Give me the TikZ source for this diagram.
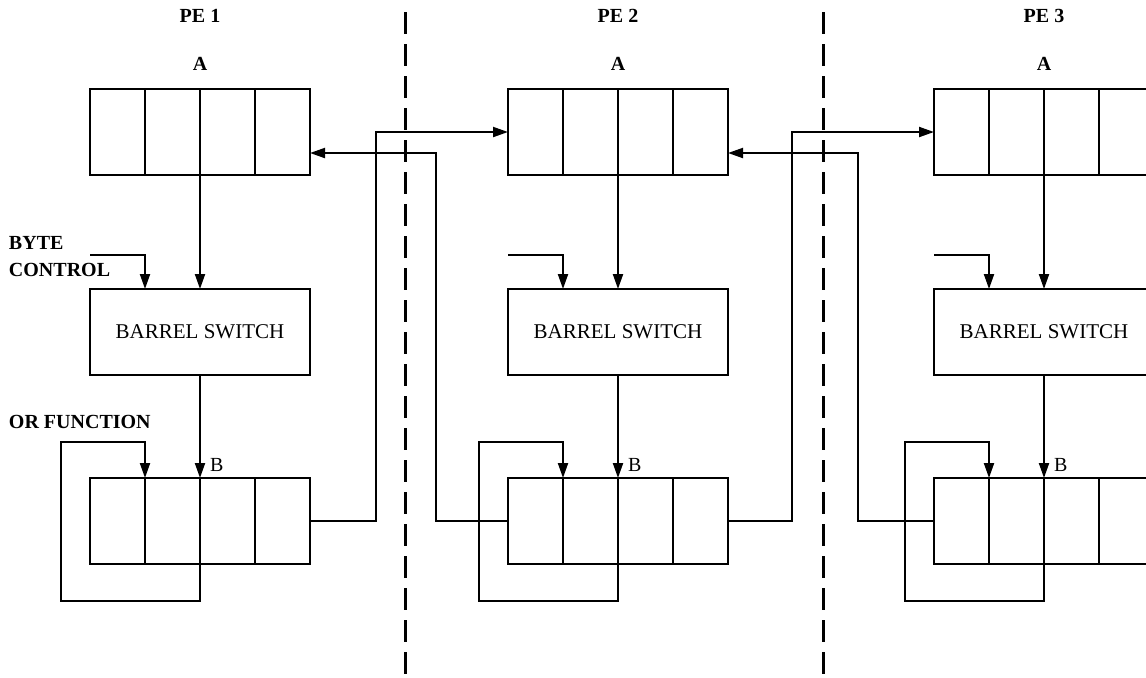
\documentclass[tikz,border=0pt]{standalone}
\usepackage{fontspec}
\setmainfont{Liberation Serif}
\usetikzlibrary{positioning,arrows.meta,calc}

\begin{document}
\begin{tikzpicture}[
    x=0.5pt, y=-0.5pt,
    line width=1pt,
    >={Triangle[length=7.5pt,width=5pt]},
    register/.style={
        draw=black,
        minimum width=110pt,
        minimum height=43pt,
        inner sep=0pt,
        outer sep=0pt,
        path picture={
            \foreach \f in {0.25,0.5,0.75}
                \draw ($(path picture bounding box.north west)!\f!(path picture bounding box.north east)$)
                    -- ($(path picture bounding box.south west)!\f!(path picture bounding box.south east)$);
        }
    },
    switchbox/.style={
        draw=black,
        minimum width=110pt,
        minimum height=43pt,
        inner sep=0pt,
        outer sep=0pt,
        font=\fontsize{10.5}{12}\selectfont
    },
    lbl/.style={inner sep=0pt, font=\bfseries\fontsize{10}{13.5}\selectfont},
    blbl/.style={inner sep=0pt, font=\fontsize{10}{12}\selectfont},
    link/.style={->, draw=black},
    divider/.style={draw=black, line width=1.5pt, dash pattern=on 11pt off 5pt}
]

    \clip (0,0) rectangle (1146,677);

    \foreach \i/\L in {1/90, 2/508, 3/934} {
        \node[register] (A\i) at (\L+110,132) {};
        \node[lbl, above=9pt of A\i] (Al\i) {A};
        \node[lbl, above=16pt of Al\i] (PE\i) {PE \i};
        \node[switchbox] (BS\i) at (\L+110,332) {BARREL SWITCH};
        \node[register] (B\i) at (\L+110,521) {};
        \node[blbl, above right=2.5pt and 4.5pt of B\i.north] (Bl\i) {B};
        \coordinate (bc\i) at (\L,255);

        \draw[link] (A\i.south) -- (BS\i.north);
        \draw[link] (BS\i.south) -- (B\i.north);
        \draw[link] (bc\i) -| ($(BS\i.north west)!0.25!(BS\i.north east)$);
        \draw[link] (B\i.south) |- (\L-29,601) |- (\L+55,442)
            -- ($(B\i.north west)!0.25!(B\i.north east)$);
    }

    \node[lbl, align=left, anchor=west] (bytectl) at (8,257) {BYTE\\CONTROL};
    \node[lbl, anchor=west] (orfn) at (8,422) {OR FUNCTION};

    \draw[link] (B1.east) -| (376,132) -- (A2.west);
    \draw[link] (B2.west) -| (436,153) -- (A1.east |- 436,153);
    \draw[link] (B2.east) -| (792,132) -- (A3.west);
    \draw[link] (B3.west) -| (858,153) -- (A2.east |- 858,153);

    \draw[divider] (405,12) -- (405,677);
    \draw[divider] (823,12) -- (823,677);

\end{tikzpicture}
\end{document}
